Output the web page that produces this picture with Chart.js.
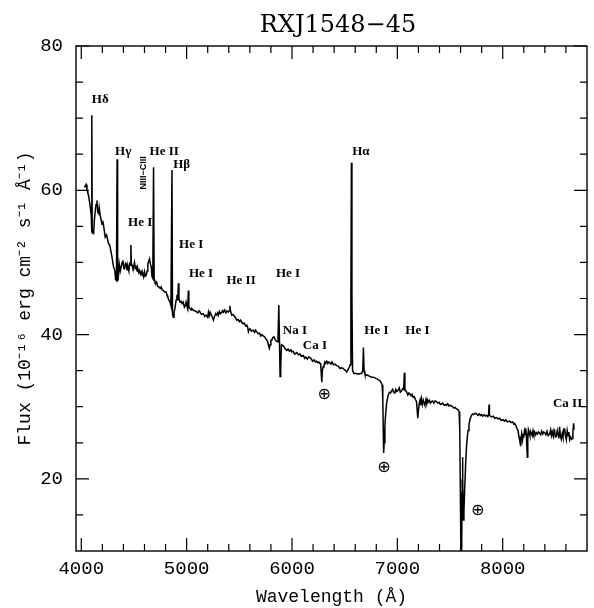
<!DOCTYPE html>
<html>
<head>
<meta charset="utf-8">
<script src="https://cdn.jsdelivr.net/npm/chart.js@4/dist/chart.umd.min.js"></script>
<style>
html,body{margin:0;padding:0;background:#fff;}
canvas{display:block;}
</style>
</head>
<body>
<canvas id="c" width="594" height="608"></canvas>
<script>
// ---- data ----
const wavelength = [
4031,4045,4054,4069,4085,4095,4099,4101,4104,4117,4125,4133,4140,4149,4156,4164,4170,4180,4196,4205,
4212,4227,4240,4259,4270,4291,4306,4318,4326,4334,4340,4345,4350,4360,4370,4379,4388,4395,4403,4411,
4420,4427,4435,4443,4452,4458,4466,4471,4476,4483,4492,4505,4513,4521,4530,4537,4545,4553,4562,4569,
4578,4585,4592,4600,4608,4616,4625,4632,4640,4648,4656,4664,4672,4679,4686,4692,4698,4705,4715,4725,
4736,4749,4758,4768,4780,4790,4806,4815,4822,4830,4840,4846,4851,4861,4866,4873,4880,4891,4900,4908,
4916,4922,4927,4938,4948,4957,4967,4979,4988,4995,5003,5011,5016,5021,5033,5043,5050,5063,5075,5090,
5105,5118,5128,5140,5159,5172,5185,5191,5200,5207,5215,5223,5235,5245,5254,5265,5276,5286,5295,5301,
5311,5320,5333,5340,5349,5360,5372,5381,5395,5405,5411,5416,5428,5440,5455,5465,5476,5490,5500,5512,
5523,5535,5546,5560,5571,5580,5586,5593,5602,5615,5633,5645,5655,5665,5681,5692,5705,5716,5728,5740,
5752,5760,5770,5778,5785,5792,5800,5808,5818,5829,5840,5850,5861,5867,5875,5882,5887,5893,5900,5912,
5925,5937,5950,5962,5975,5990,5997,6010,6025,6045,6060,6075,6090,6107,6120,6130,6145,6158,6171,6185,
6195,6210,6222,6234,6245,6255,6265,6272,6278,6283,6288,6295,6303,6312,6320,6330,6340,6350,6360,6370,
6380,6395,6410,6424,6440,6455,6470,6486,6500,6510,6519,6530,6545,6552,6559,6564,6569,6575,6588,6600,
6613,6629,6645,6661,6672,6678,6684,6692,6710,6725,6739,6755,6770,6787,6800,6815,6834,6848,6856,6862,
6866,6870,6875,6882,6888,6898,6913,6925,6935,6945,6955,6965,6976,6985,6995,7008,7018,7028,7040,7050,
7060,7066,7072,7081,7090,7100,7110,7118,7130,7140,7150,7160,7172,7182,7188,7194,7200,7207,7215,7222,
7229,7238,7246,7254,7261,7270,7278,7283,7292,7303,7314,7324,7335,7346,7358,7372,7385,7397,7408,7419,
7430,7442,7454,7466,7478,7490,7502,7514,7525,7537,7549,7561,7575,7586,7592,7597,7602,7606,7610,7614,
7618,7622,7627,7632,7640,7648,7656,7664,7671,7680,7687,7700,7713,7725,7738,7751,7765,7778,7790,7798,
7810,7825,7835,7846,7858,7866,7870,7874,7884,7895,7910,7925,7941,7955,7970,7985,8003,8018,8030,8045,
8066,8080,8095,8105,8114,8125,8135,8145,8155,8162,8168,8173,8180,8188,8194,8199,8206,8212,8218,8224,
8230,8234,8238,8244,8250,8258,8265,8272,8280,8288,8295,8303,8312,8320,8330,8340,8351,8360,8370,8380,
8390,8398,8410,8420,8432,8445,8455,8462,8470,8480,8488,8493,8500,8509,8518,8525,8533,8540,8547,8556,
8565,8572,8580,8588,8595,8604,8612,8620,8628,8635,8645,8655,8660,8666,8673,8677
];
const flux = [
60.4,60.8,60.2,59.3,57.7,56.5,54.2,70.4,54.1,54.0,56.0,57.2,58.0,58.6,57.0,56.8,57.6,56.5,55.4,55.6,
55.1,53.5,53.8,52.6,52.4,50.8,49.4,48.9,47.6,47.5,64.3,47.5,47.6,49.8,48.8,49.4,50.0,50.3,49.2,49.1,
49.9,49.8,49.0,49.4,48.8,49.8,49.6,52.4,49.6,49.6,49.0,50.0,49.2,49.4,48.8,49.1,48.6,48.9,48.4,48.7,
48.2,48.4,48.0,48.7,48.1,48.2,48.8,49.8,50.2,50.5,49.8,49.4,48.0,47.8,63.2,47.6,47.3,47.1,47.3,46.7,
46.6,46.4,46.6,46.2,46.1,45.9,45.9,45.4,45.2,44.8,44.6,44.3,44.0,62.8,42.9,42.4,43.0,43.8,44.8,45.2,
45.0,47.1,45.0,44.5,44.6,44.3,44.5,43.8,44.0,44.5,44.0,43.6,46.1,43.8,43.6,43.4,43.6,43.4,43.3,43.2,
43.0,43.3,43.1,42.8,42.9,42.5,42.7,42.7,42.4,43.1,42.6,43.1,42.7,42.4,42.0,42.5,42.9,42.7,43.0,42.7,
43.2,42.9,43.1,43.3,43.1,43.4,43.0,43.3,43.1,43.3,44.0,43.3,42.7,42.8,42.5,42.3,42.0,42.1,41.8,42.0,
41.7,41.5,41.6,41.2,41.3,41.0,40.4,40.7,40.8,40.5,40.6,40.3,40.6,40.4,40.1,40.2,39.8,40.0,39.8,39.7,
39.4,39.3,39.0,38.4,38.1,38.6,39.2,39.2,39.6,39.7,39.3,39.1,39.0,39.3,44.1,38.4,34.2,35.5,38.6,38.5,
38.3,38.0,37.8,38.0,37.7,37.9,37.6,37.7,37.3,37.5,37.2,37.3,37.0,37.1,36.7,36.9,36.6,36.9,36.8,36.6,
36.3,36.5,36.2,36.3,36.1,36.2,36.0,36.0,34.5,33.4,35.0,35.5,35.7,36.2,36.0,36.3,36.0,36.2,36.1,35.9,
36.2,35.8,35.9,35.7,35.6,35.3,35.4,35.3,35.1,35.0,34.8,35.1,35.5,35.8,45.0,63.8,45.0,35.0,34.6,34.6,
34.6,34.5,34.6,34.6,35.0,38.2,35.0,34.5,34.4,34.3,34.2,34.1,34.1,34.0,33.9,33.8,33.6,33.3,33.0,31.0,
27.0,23.6,25.0,27.5,28.8,30.5,31.6,32.0,31.9,32.2,32.4,32.0,31.9,32.4,32.1,32.3,32.6,32.0,32.2,32.5,
32.4,34.7,32.3,32.2,32.0,31.6,31.9,31.8,31.5,31.7,31.3,31.4,31.0,30.7,29.6,28.4,29.5,30.4,30.9,30.2,
31.1,30.3,30.9,30.5,30.2,30.9,30.4,31.0,30.6,30.9,30.5,30.7,30.8,30.5,30.8,30.7,30.5,30.6,30.3,30.4,
30.5,30.2,30.3,30.2,30.4,30.1,30.2,30.1,30.0,29.8,29.9,29.7,29.6,29.3,27.0,20.0,12.0,8.0,9.0,18.0,
23.0,20.0,14.3,15.5,18.9,22.0,24.4,25.8,26.7,27.5,28.1,28.7,29.0,28.9,29.1,29.0,28.8,29.0,28.8,28.9,
28.7,28.9,28.7,28.8,28.6,29.0,30.3,28.8,28.7,28.6,28.7,28.4,28.5,28.3,28.4,28.1,28.2,28.0,28.2,27.9,
28.0,27.8,27.9,27.6,27.7,27.4,27.0,26.7,25.8,25.3,24.7,25.6,26.3,25.4,26.0,25.9,26.6,26.1,27.0,26.3,
24.0,23.0,25.5,26.8,26.5,26.0,26.6,26.3,26.0,26.7,26.2,26.5,26.1,26.4,26.2,26.5,26.3,26.1,26.6,26.2,
26.5,26.4,26.1,26.6,26.0,26.2,26.8,26.0,26.5,25.9,26.8,26.7,25.8,25.9,26.7,26.2,25.6,27.2,26.0,25.5,
26.3,25.8,26.9,26.9,26.0,25.4,26.7,26.0,26.5,25.4,25.8,25.5,25.6,26.5,27.7,26.8
];

// axis ticks
const xMajorTicks = [4000, 5000, 6000, 7000, 8000];
const xMinorTicks = [4200,4400,4600,4800,5200,5400,5600,5800,6200,6400,6600,6800,7200,7400,7600,7800,8200,8400,8600];
const yMajorTicks = [20, 40, 60, 80];
const yMinorTicks = [15,25,30,35,45,50,55,65,70,75];

// line identifications (text, wavelength, flux where the label sits)
const labelTexts = ['Hδ','Hγ','He II','Hβ','He I','He I','He I','He II','He I','Na I','Ca I','Hα','He I','He I','Ca II'];
const labelWl    = [4180,4398,4787,4953,4559,5043,5137,5517,5962,6028,6218,6654,6801,7190,8616];
const labelFlux  = [72.5,65.4,65.4,63.5,55.5,52.5,48.5,47.5,48.5,40.5,38.5,65.4,40.5,40.5,30.4];
const rotatedText = 'NIII−CIII';
const rotatedWl = 4588, rotatedFlux = 62.4;
const tellWl   = [6306, 6872, 7763];
const tellFlux = [31.6, 21.5, 15.5];

const points = wavelength.map((w, i) => ({x: w, y: flux[i]}));

const decor = {
  id: 'decor',
  afterDatasetsDraw(chart) {
    const {ctx, chartArea: a, scales: {x, y}} = chart;
    ctx.save();
    ctx.strokeStyle = '#000';
    ctx.lineWidth = 1.4;
    ctx.strokeRect(a.left, a.top, a.right - a.left, a.bottom - a.top);
    ctx.lineWidth = 1.2;
    const maj = 13, min = 7;
    ctx.beginPath();
    xMajorTicks.forEach(v => { const p = x.getPixelForValue(v);
      ctx.moveTo(p, a.bottom); ctx.lineTo(p, a.bottom - maj);
      ctx.moveTo(p, a.top); ctx.lineTo(p, a.top + maj); });
    xMinorTicks.forEach(v => { const p = x.getPixelForValue(v);
      ctx.moveTo(p, a.bottom); ctx.lineTo(p, a.bottom - min);
      ctx.moveTo(p, a.top); ctx.lineTo(p, a.top + min); });
    yMajorTicks.forEach(v => { const p = y.getPixelForValue(v);
      ctx.moveTo(a.left, p); ctx.lineTo(a.left + maj, p);
      ctx.moveTo(a.right, p); ctx.lineTo(a.right - maj, p); });
    yMinorTicks.forEach(v => { const p = y.getPixelForValue(v);
      ctx.moveTo(a.left, p); ctx.lineTo(a.left + min, p);
      ctx.moveTo(a.right, p); ctx.lineTo(a.right - min, p); });
    ctx.stroke();

    // line labels
    ctx.fillStyle = '#000';
    ctx.textAlign = 'center';
    ctx.textBaseline = 'middle';
    ctx.font = 'bold 13px "Liberation Serif"';
    labelTexts.forEach((t, i) => {
      ctx.fillText(t, x.getPixelForValue(labelWl[i]), y.getPixelForValue(labelFlux[i]));
    });
    ctx.save();
    ctx.translate(x.getPixelForValue(rotatedWl), y.getPixelForValue(rotatedFlux));
    ctx.rotate(-Math.PI / 2);
    ctx.font = 'bold 9px "Liberation Sans"';
    ctx.fillText(rotatedText, 0, 0);
    ctx.restore();
    ctx.font = '16px "DejaVu Sans"';
    tellWl.forEach((w, i) => {
      ctx.fillText('⊕', x.getPixelForValue(w), y.getPixelForValue(tellFlux[i]));
    });

    // title
    ctx.font = '24px "DejaVu Serif"';
    ctx.textBaseline = 'alphabetic';
    ctx.fillText('RXJ1548−45', 338, 32);
    ctx.restore();
  }
};

new Chart(document.getElementById('c'), {
  type: 'line',
  data: {
    datasets: [{
      data: points,
      borderColor: '#000',
      borderWidth: 1.5,
      pointRadius: 0,
      tension: 0,
      fill: false
    }]
  },
  options: {
    responsive: false,
    animation: false,
    parsing: false,
    layout: {padding: {top: 46, right: 7, left: 0, bottom: 0}},
    plugins: {legend: {display: false}, tooltip: {enabled: false}, title: {display: false}},
    scales: {
      x: {
        type: 'linear', min: 3950, max: 8800,
        afterBuildTicks: s => { s.ticks = xMajorTicks.map(v => ({value: v})); },
        afterFit: s => { s.height = 57; },
        grid: {display: false, drawTicks: false},
        border: {display: false},
        ticks: {color: '#000', font: {family: 'Liberation Mono', size: 19}, padding: 7, maxRotation: 0, autoSkip: false,
                callback: v => String(v)},
        title: {display: true, text: 'Wavelength (Å)', color: '#000', font: {family: 'Liberation Mono', size: 18}, padding: {top: 0, bottom: 0}}
      },
      y: {
        type: 'linear', min: 10, max: 80,
        afterBuildTicks: s => { s.ticks = yMajorTicks.map(v => ({value: v})); },
        afterFit: s => { s.width = 76; },
        grid: {display: false, drawTicks: false},
        border: {display: false},
        ticks: {color: '#000', font: {family: 'Liberation Mono', size: 19}, padding: 13, callback: v => String(v)},
        title: {display: true, text: 'Flux (10⁻¹⁶ erg cm⁻² s⁻¹ Å⁻¹)', color: '#000', font: {family: 'Liberation Mono', size: 18}, padding: {top: 14, bottom: 0}}
      }
    }
  },
  plugins: [decor]
});
</script>
</body>
</html>
